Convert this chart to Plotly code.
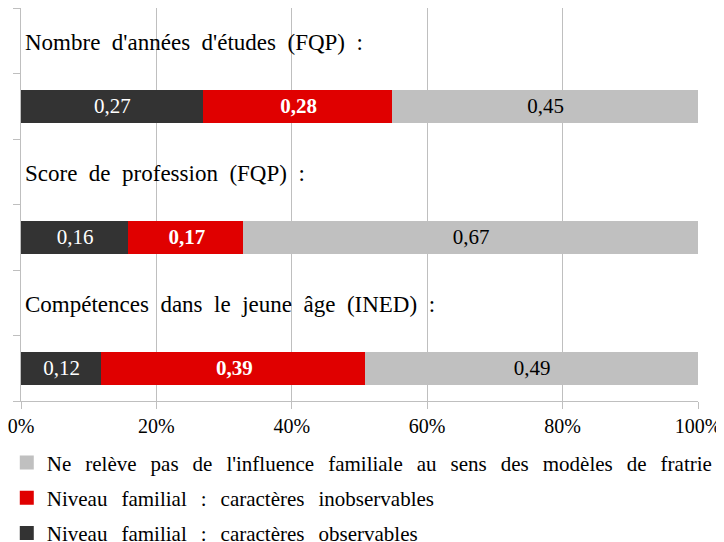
import plotly.graph_objects as go

categories = ["Nombre d'années d'études (FQP) :",
              "Score de profession (FQP) :",
              "Compétences dans le jeune âge (INED) :"]
series_names = ["Niveau familial : caractères observables",
                "Niveau familial : caractères inobservables",
                "Ne relève pas de l'influence familiale au sens des modèles de fratrie"]
observables = [0.27, 0.16, 0.12]
inobservables = [0.28, 0.17, 0.39]
hors_famille = [0.45, 0.67, 0.49]
tick_values = [0, 0.2, 0.4, 0.6, 0.8, 1.0]
tick_labels = ["0%", "20%", "40%", "60%", "80%", "100%"]

colors = ["#333333", "#e00000", "#c0c0c0"]
text_colors = ["white", "white", "black"]
bold = [False, True, False]
legend_rank = [3, 2, 1]
FONT = "Liberation Serif, Times New Roman, serif"

# widen word spacing as in the reference (justified-looking text)
def spaced(s, extra="\u2004"):
    return s.replace(" ", " " + extra)

# each category occupies two slots: label slot then bar slot
bar_pos = [2 * i + 1 for i in range(len(categories))]
label_pos = [2 * i for i in range(len(categories))]
nslots = 2 * len(categories)

def fmt(v, b):
    s = f"{v:.2f}".replace(".", ",")
    return f"<b>{s}</b>" if b else s

fig = go.Figure()
for name, vals, c, tc, b, rk in zip(series_names, [observables, inobservables, hors_famille],
                                    colors, text_colors, bold, legend_rank):
    fig.add_trace(go.Bar(
        x=vals, y=bar_pos, orientation="h", name=spaced(name, "\u2004\u200a"),
        marker=dict(color=c, line=dict(width=2, color=c)),
        width=0.47,
        text=[fmt(v, b) for v in vals],
        textposition="inside", insidetextanchor="middle",
        textfont=dict(family=FONT, size=21, color=tc),
        legendgroup=name, legendrank=rk,
    ))

for cat, yp in zip(categories, label_pos):
    fig.add_annotation(x=0, y=yp, xref="x", yref="y", text=spaced(cat, "\u00a0"),
                       showarrow=False,
                       xanchor="left", yanchor="middle", xshift=2, yshift=-2,
                       font=dict(family=FONT, size=23, color="black"))

# the page body has an 8px margin, so the figure is offset to compensate
fig.update_layout(
    barmode="stack",
    width=716, height=542,
    margin=dict(l=13, r=26, t=0, b=149, autoexpand=False),
    plot_bgcolor="white", paper_bgcolor="white",
    font=dict(family=FONT, color="black"),
    showlegend=True,
    legend=dict(orientation="v", traceorder="grouped", x=-0.021, y=-0.105,
                xanchor="left", yanchor="top",
                font=dict(family=FONT, size=21, color="black"),
                tracegroupgap=5, bgcolor="rgba(0,0,0,0)"),
    uniformtext=dict(mode=False),
)
fig.update_xaxes(range=[0, 1], tickvals=tick_values, ticktext=tick_labels,
                 showgrid=True, gridcolor="#bfbfbf", gridwidth=1,
                 showline=True, linecolor="#bfbfbf", linewidth=1, mirror=True,
                 ticks="outside", ticklen=7, tickcolor="#bfbfbf",
                 tickfont=dict(family=FONT, size=20, color="black"),
                 ticklabeloverflow="allow",
                 zeroline=False, fixedrange=True, automargin=False)
fig.update_yaxes(range=[nslots - 0.5, -0.5],
                 tickvals=[k - 0.5 for k in range(nslots + 1)],
                 showticklabels=False, showgrid=False, zeroline=False,
                 showline=True, linecolor="#bfbfbf", linewidth=1,
                 ticks="outside", ticklen=7, tickcolor="#bfbfbf", fixedrange=True,
                 automargin=False)

fig.write_html("out.html")
